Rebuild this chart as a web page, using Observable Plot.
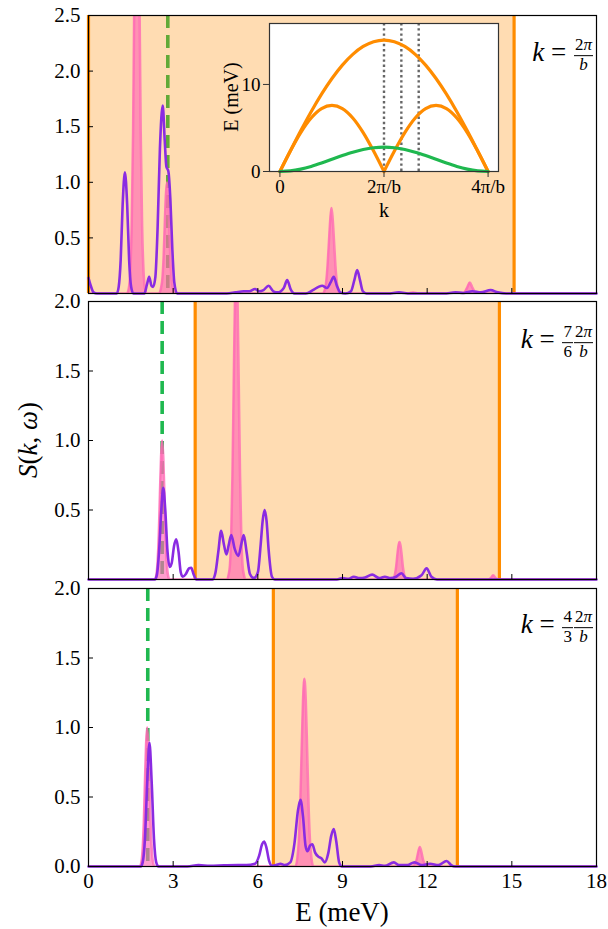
<!DOCTYPE html>
<html><head><meta charset="utf-8">
<script src="https://cdn.jsdelivr.net/npm/d3@7"></script>
<script src="https://cdn.jsdelivr.net/npm/@observablehq/plot@0.6"></script>
<style>
body{margin:0;background:#fff;}
#wrap{position:relative;width:608px;height:929px;overflow:hidden;}
#wrap svg{position:absolute;overflow:visible;}
#wrap svg, #wrap svg text, #wrap svg g{font-family:"Liberation Serif",serif !important;}
.lab{position:absolute;font-family:"Liberation Serif",serif;color:#000;white-space:nowrap;line-height:1;}
.klab{font-size:27px;transform:translateY(-50%);}
.frac{display:inline-flex;flex-direction:column;align-items:center;vertical-align:middle;font-size:17px;line-height:1.05;margin-left:1px;}
.frac span:first-child{border-bottom:1.4px solid #000;padding:0 1px 1px 1px;}
</style></head><body><div id="wrap"></div>
<script>
// ---------------- data ----------------
const xTicks = [0, 3, 6, 9, 12, 15, 18];
const yTicks1 = [0.5, 1.0, 1.5, 2.0, 2.5];
const yTicks2 = [0.5, 1.0, 1.5, 2.0];
const yTicks3 = [0.0, 0.5, 1.0, 1.5, 2.0];
const yMax = [2.5, 2.0, 2.0];
// orange continuum band (meV) for each k
const bandLo = [0.0, 3.78, 6.55];
const bandHi = [15.08, 14.56, 13.07];
// green dashed mode energy for each k
const greenE = [2.81, 2.61, 2.10];
const kLabels = [["2π", "b", null], ["7", "6", "2π/b"], ["4", "3", "2π/b"]];

// pink (sharp) spectra  [E, S]
const pink1 = [[0,0],[1.36,0],[1.43,0.05],[1.48,0.2],[1.53,0.61],[1.58,1.46],[1.625,2.73],[1.67,3.97],[1.715,4.5],[1.76,3.97],[1.805,2.73],[1.85,1.46],[1.9,0.61],[1.95,0.2],[2.0,0.05],[2.06,0],
 [2.5,0],[2.57,0.05],[2.62,0.14],[2.66,0.32],[2.7,0.61],[2.74,0.88],[2.78,1.0],[2.82,0.88],[2.86,0.61],[2.9,0.32],[2.94,0.14],[2.99,0.05],[3.05,0],
 [8.3,0],[8.37,0.03],[8.42,0.1],[8.47,0.25],[8.52,0.47],[8.57,0.68],[8.61,0.77],[8.65,0.68],[8.7,0.47],[8.75,0.25],[8.8,0.1],[8.85,0.03],[8.92,0],
 [11.3,0],[11.5,0.01],[11.7,0],
 [13.25,0],[13.35,0.02],[13.43,0.06],[13.51,0.1],[13.59,0.06],[13.67,0.02],[13.77,0],[18,0]];
const pink2 = [[0,0],[2.35,0],[2.41,0.04],[2.45,0.135],[2.49,0.32],[2.53,0.61],[2.57,0.88],[2.61,1.0],[2.65,0.88],[2.69,0.61],[2.73,0.32],[2.77,0.135],[2.81,0.04],[2.87,0],
 [4.91,0],[4.96,0.03],[5.01,0.1],[5.055,0.31],[5.1,0.75],[5.145,1.4],[5.19,2.03],[5.235,2.3],[5.28,2.03],[5.325,1.4],[5.37,0.75],[5.415,0.31],[5.46,0.1],[5.51,0.03],[5.56,0],
 [10.76,0],[10.82,0.01],[10.86,0.04],[10.9,0.09],[10.94,0.17],[10.98,0.24],[11.02,0.27],[11.06,0.24],[11.1,0.17],[11.14,0.09],[11.18,0.04],[11.22,0.01],[11.28,0],
 [14.15,0],[14.25,0.01],[14.34,0.03],[14.43,0.01],[14.53,0],[18,0]];
const pink3 = [[0,0],[1.82,0],[1.88,0.04],[1.92,0.135],[1.96,0.32],[2.0,0.61],[2.04,0.88],[2.08,1.0],[2.12,0.88],[2.16,0.61],[2.2,0.32],[2.24,0.135],[2.28,0.04],[2.34,0],
 [7.33,0],[7.4,0.06],[7.45,0.18],[7.5,0.43],[7.55,0.82],[7.6,1.19],[7.65,1.35],[7.7,1.19],[7.75,0.82],[7.8,0.43],[7.85,0.18],[7.9,0.06],[7.97,0],
 [11.48,0],[11.54,0.01],[11.62,0.045],[11.69,0.11],[11.74,0.14],[11.79,0.11],[11.86,0.045],[11.94,0.01],[12.0,0],[18,0]];

// purple (broadened) spectra  [E, S]
const purple1 = [[0,0.14],[0.08,0.07],[0.18,0.01],[0.3,0],
 [1.0,0],[1.07,0.06],[1.14,0.3],[1.21,0.8],[1.29,1.09],[1.37,0.8],[1.44,0.3],[1.51,0.06],[1.59,0],
 [1.98,0],[2.07,0.08],[2.15,0.15],[2.23,0.07],[2.29,0.06],
 [2.37,0.15],[2.45,0.6],[2.53,1.3],[2.63,1.69],[2.7,1.38],[2.76,1.14],[2.83,1.1],[2.9,0.85],[2.97,0.4],[3.04,0.1],[3.14,0],
 [4.9,0],[5.2,0.01],[5.5,0.02],[5.7,0.02],[5.9,0.04],[6.05,0.02],[6.2,0.03],[6.38,0.07],[6.55,0.02],[6.7,0.01],[6.92,0.05],[7.04,0.12],[7.16,0.04],[7.3,0],
 [7.7,0],[7.95,0.03],[8.15,0.06],[8.28,0.07],[8.45,0.05],[8.58,0.1],[8.69,0.15],[8.8,0.07],[8.92,0.01],[9.1,0],[9.3,0.02],[9.42,0.12],[9.52,0.21],[9.62,0.12],[9.72,0.02],[9.85,0],
 [10.6,0],[11.0,0.01],[11.4,0],[12.6,0],[13.0,0.01],[13.3,0.005],[13.6,0.02],[13.9,0.01],[14.25,0.03],[14.5,0.01],[14.8,0],[18,0]];
const purple2 = [[0,0],[2.35,0],[2.42,0.03],[2.5,0.2],[2.58,0.5],[2.65,0.66],[2.72,0.5],[2.8,0.2],[2.88,0.09],[2.95,0.12],[3.03,0.24],[3.11,0.29],[3.19,0.2],[3.27,0.05],[3.34,0.02],[3.45,0.04],[3.56,0.08],[3.64,0.085],[3.72,0.04],[3.82,0],
 [4.4,0],[4.5,0.05],[4.6,0.2],[4.7,0.35],[4.8,0.25],[4.89,0.18],[4.97,0.25],[5.06,0.32],[5.18,0.22],[5.31,0.17],[5.42,0.26],[5.5,0.32],[5.6,0.2],[5.72,0.04],[5.86,0.01],
 [6.0,0.05],[6.1,0.25],[6.17,0.42],[6.24,0.5],[6.31,0.42],[6.38,0.22],[6.5,0.02],[6.6,0],
 [8.8,0],[9.0,0.01],[9.2,0.005],[9.4,0.02],[9.6,0.01],[9.8,0.015],[10.05,0.035],[10.3,0.01],[10.5,0.02],[10.7,0.01],[10.9,0.02],[11.09,0.045],[11.25,0.01],[11.5,0.005],[11.8,0.03],[11.98,0.08],[12.15,0.02],[12.35,0],[18,0]];
const purple3 = [[0,0],[1.85,0],[1.92,0.03],[2.0,0.2],[2.08,0.6],[2.16,0.89],[2.24,0.6],[2.32,0.2],[2.4,0.03],[2.48,0],
 [3.5,0],[3.9,0.01],[4.3,0.005],[4.8,0.008],[5.3,0.01],[5.6,0.01],[5.9,0.02],[6.05,0.08],[6.15,0.16],[6.22,0.18],[6.3,0.14],[6.4,0.04],[6.5,0.005],[6.65,0.01],[6.8,0.02],[6.95,0.01],
 [7.15,0.03],[7.3,0.17],[7.42,0.4],[7.51,0.48],[7.6,0.36],[7.69,0.15],[7.76,0.11],[7.85,0.15],[7.93,0.16],[8.03,0.1],[8.15,0.07],[8.25,0.06],[8.37,0.03],[8.5,0.1],[8.6,0.22],[8.69,0.27],[8.78,0.18],[8.88,0.03],[8.98,0],
 [10.0,0],[10.3,0.01],[10.5,0.005],[10.82,0.03],[11.0,0.01],[11.3,0.01],[11.55,0.03],[11.8,0.01],[12.1,0.02],[12.4,0.01],[12.69,0.04],[12.85,0.01],[13.0,0],[18,0]];

// inset: dispersion vs k (units of 2π/b)
const kGrid = [0,0.1,0.2,0.3,0.4,0.5,0.6,0.7,0.8,0.9,1,1.1,1.2,1.3,1.4,1.5,1.6,1.7,1.8,1.9,2];
const eTop = [0,2.36,4.67,6.86,8.88,10.68,12.22,13.45,14.36,14.91,15.1,14.91,14.36,13.45,12.22,10.68,8.88,6.86,4.67,2.36,0];
const eMid = [0,2.35,4.47,6.15,7.23,7.6,7.23,6.15,4.47,2.35,0,2.35,4.47,6.15,7.23,7.6,7.23,6.15,4.47,2.35,0];
const eGreen = [0,0.07,0.27,0.58,0.97,1.4,1.83,2.22,2.53,2.73,2.8,2.73,2.53,2.22,1.83,1.4,0.97,0.58,0.27,0.07,0];
const kCuts = [1, 7/6, 4/3];
const insetXTicks = [0, 1, 2];
const insetXLabels = ["0", "2π/b", "4π/b"];
const insetYTicks = [0, 10];

// ---------------- styles ----------------
const ORANGE = "#ff8c00", PINK = "#ff69b4", PURPLE = "#8a2be2", GREEN = "#1fb84f";
const FONT = "Liberation Serif";
const wrap = document.getElementById("wrap");
const pinks = [pink1, pink2, pink3], purples = [purple1, purple2, purple3];
const yTickSets = [yTicks1, yTicks2, yTicks3];
const layout = [
  {top: 0, mTop: 15, mBottom: 0},
  {top: 293, mTop: 8, mBottom: 0},
  {top: 579, mTop: 9, mBottom: 63}
];
const FRAME_H = 278, FRAME_W = 508;

layout.forEach((L, i) => {
  const showX = i === 2;
  const fx = d => d[0], fy = d => d[1];
  const svg = Plot.plot({
    width: 608, height: L.mTop + FRAME_H + L.mBottom,
    marginLeft: 88, marginRight: 12, marginTop: L.mTop, marginBottom: L.mBottom,
    style: {background: "transparent", overflow: "visible", fontFamily: FONT, fontSize: "20px", color: "#000"},
    x: {domain: [0, 18]},
    y: {domain: [0, yMax[i]]},
    marks: [
      Plot.ruleX([greenE[i]], {x: d => d, stroke: GREEN, strokeWidth: 3.6, strokeDasharray: "13,7"}),
      Plot.rect([[bandLo[i], bandHi[i]]], {x1: d => d[0], x2: d => d[1], fill: ORANGE, fillOpacity: 0.3}),
      Plot.ruleX([bandLo[i], bandHi[i]], {x: d => d, stroke: ORANGE, strokeWidth: 3.2}),
      Plot.areaY(pinks[i], {x: fx, y: fy, fill: PINK, fillOpacity: 0.65, curve: "monotone-x", clip: true}),
      Plot.line(pinks[i], {x: fx, y: fy, stroke: PINK, strokeOpacity: 0.8, strokeWidth: 2.5, curve: "monotone-x", clip: true}),
      Plot.line(purples[i], {x: fx, y: fy, stroke: PURPLE, strokeWidth: 2.6, curve: "monotone-x"}),
      Plot.frame({stroke: "#000", strokeWidth: 1.2}),
      Plot.tickY(yTickSets[i], {y: d => d, stroke: "#000", strokeWidth: 1, insetRight: FRAME_W - 5}),
      Plot.tickX(xTicks, {x: d => d, stroke: "#000", strokeWidth: 1, insetTop: FRAME_H - 5}),
      Plot.axisY(yTickSets[i], {tickSize: 0, tickPadding: 8, tickFormat: d3.format(".1f"), label: null, fontSize: 21, fontFamily: FONT}),
      Plot.axisX(xTicks, {tickSize: 0, tickPadding: 7, tickFormat: showX ? (d => String(d)) : (() => ""), label: null, fontSize: 21, fontFamily: FONT})
    ]
  });
  svg.style.left = "0px";
  svg.style.top = L.top + "px";
  wrap.appendChild(svg);
});

// inset
const topRows = kGrid.map((k, j) => ({k, e: eTop[j]}));
const midRows = kGrid.flatMap((k, j) => k === 1 ? [{k, e: eMid[j], z: "L"}, {k, e: eMid[j], z: "R"}] : [{k, e: eMid[j], z: k < 1 ? "L" : "R"}]);
const greenRows = kGrid.map((k, j) => ({k, e: eGreen[j]}));
const inset = Plot.plot({
  width: 310, height: 230,
  marginLeft: 69, marginRight: 12, marginTop: 23, marginBottom: 59,
  style: {background: "transparent", overflow: "visible", fontFamily: FONT, fontSize: "19px", color: "#000"},
  x: {domain: [-0.1, 2.1]},
  y: {domain: [0, 17]},
  marks: [
    Plot.frame({fill: "white"}),
    Plot.ruleX(kCuts, {x: d => d, stroke: "#666", strokeWidth: 2.4, strokeDasharray: "2.4,2.8"}),
    Plot.line(topRows, {x: "k", y: "e", stroke: ORANGE, strokeWidth: 3.2, curve: "monotone-x"}),
    Plot.line(midRows, {x: "k", y: "e", z: "z", stroke: ORANGE, strokeWidth: 3.2, curve: "monotone-x"}),
    Plot.line(greenRows, {x: "k", y: "e", stroke: GREEN, strokeWidth: 3.2, curve: "monotone-x"}),
    Plot.frame({stroke: "#333", strokeWidth: 1.2}),
    Plot.axisY(insetYTicks, {tickSize: 6, tickPadding: 3, stroke: "#333", label: null, fontSize: 19, fontFamily: FONT}),
    Plot.axisX(insetXTicks, {tickSize: 6, tickPadding: 2, stroke: "#333", tickFormat: d => insetXLabels[insetXTicks.indexOf(d)], label: null, fontSize: 19, fontFamily: FONT})
  ]
});
inset.style.left = "200px";
inset.style.top = "0px";
wrap.appendChild(inset);

// ---------------- text labels ----------------
function addLab(html, css, cls) {
  const d = document.createElement("div");
  d.className = "lab " + (cls || "");
  d.innerHTML = html;
  Object.assign(d.style, css);
  wrap.appendChild(d);
  return d;
}
// inset axis titles
addLab("E (meV)", {left: "231px", top: "97px", fontSize: "20px", transform: "translate(-50%,-50%) rotate(-90deg)"});
addLab("k", {left: "384px", top: "210px", fontSize: "20px", transform: "translate(-50%,-50%)"});
// main axis titles
addLab("<i>S</i>(<i>k</i>, <i>ω</i>)", {left: "28px", top: "440px", fontSize: "27px", transform: "translate(-50%,-50%) rotate(-90deg)"});
addLab("E (meV)", {left: "342px", top: "912px", fontSize: "27px", transform: "translate(-50%,-50%)"});
// k labels
const kTops = [55, 342, 627];
kLabels.forEach((kl, i) => {
  let html = "<i>k</i> = ";
  html += `<span class="frac"><span>${kl[0].replace("π", "<i>π</i>")}</span><span>${kl[1] === "b" ? "<i>b</i>" : kl[1]}</span></span>`;
  if (kl[2]) html += `<span class="frac"><span>2<i>π</i></span><span><i>b</i></span></span>`;
  addLab(html, {right: "15px", top: kTops[i] + "px"}, "klab");
});
</script>
</body></html>
